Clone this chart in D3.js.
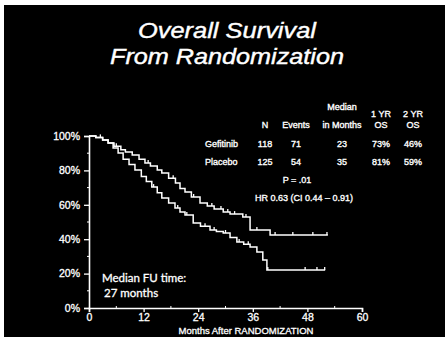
<!DOCTYPE html>
<html>
<head>
<meta charset="utf-8">
<script src="https://cdn.jsdelivr.net/npm/d3@7"></script>
<style>
  html, body { margin: 0; padding: 0; background: #fff; }
  svg { display: block; }
  .narrow { font-family: "Liberation Sans Narrow", "Arial Narrow", "Liberation Sans", sans-serif; }
</style>
</head>
<body>
<svg id="chart" width="445" height="337"></svg>
<script>
// Kaplan-Meier overall survival, months after randomization
const placeboMonths   = [0, 1.5, 3, 4.2, 5.5, 7, 8, 9.5, 11, 12.3, 13.5, 15, 16, 17.5, 19, 20, 21.1, 22.5, 24.4, 26, 27.5, 29.5, 31, 33.8, 35.4, 39.8, 52.5];
const placeboSurv     = [100, 99.2, 97.7, 95.9, 94, 92, 90.7, 89, 86.5, 84.3, 82.5, 80.2, 78.5, 75.5, 72.7, 69.5, 67.4, 64.5, 61, 59.3, 57.5, 55.8, 54.6, 52.9, 45.3, 42.4, 42.4];
const gefitinibMonths = [0, 1.5, 3, 4.2, 5.3, 6.4, 7.5, 8.8, 10.1, 11.5, 12.6, 13.8, 15, 16, 17.5, 18.9, 20, 21.1, 22.9, 24.5, 26.6, 28, 29.5, 31, 32.5, 34, 35.4, 36.9, 38.2, 39.1, 51.9];
const gefitinibSurv   = [100, 99.2, 97.7, 95.9, 93, 90.1, 86.5, 83.5, 80.2, 76.5, 73.5, 70.3, 67, 64, 61, 58.1, 55.8, 54.1, 49.4, 47.5, 45.3, 44.5, 43.6, 41, 38.4, 37, 35.5, 32.6, 27.9, 22.1, 22.1];

// censored observations (months)
const placeboCensor   = [2.5, 6, 13, 18.5, 23, 27, 29, 30.5, 32, 34.5, 36.9, 40.9, 44.8, 49.2, 52.3];
const gefitinibCensor = [14.2, 19.5, 21.5, 25.5, 27.5, 30, 33, 35, 39.3, 47.5, 50.1, 51.8];

const xTicks = [0, 12, 24, 36, 48, 60];
const yTicks = [0, 20, 40, 60, 80, 100];

// summary table
const tableHeader = ["N", "Events", "in Months", "OS", "OS"];
const tableHeaderTop = ["", "", "Median", "1 YR", "2 YR"];
const rowNames = ["Gefitinib", "Placebo"];
const rowN = [118, 125];
const rowEvents = [71, 54];
const rowMedian = [23, 35];
const rowOS1 = ["73%", "81%"];
const rowOS2 = ["46%", "59%"];

const svg = d3.select("#chart");
const W = 445, H = 337;

// dark slide panel
svg.append("rect").attr("x", 4).attr("y", 5).attr("width", W - 4).attr("height", H - 5).attr("fill", "#000");

// title
const title = svg.append("g")
  .attr("font-family", "'Liberation Sans', Arial, sans-serif")
  .attr("font-style", "italic")
  .attr("font-size", 22)
  .attr("fill", "#fff")
  .attr("stroke", "#fff")
  .attr("stroke-width", 0.4)
  .attr("text-anchor", "middle");
title.append("text").attr("x", 227).attr("y", 38)
  .attr("textLength", 178).attr("lengthAdjust", "spacingAndGlyphs").text("Overall Survival");
title.append("text").attr("x", 227).attr("y", 64)
  .attr("textLength", 234).attr("lengthAdjust", "spacingAndGlyphs").text("From Randomization");

const x = d3.scaleLinear().domain([0, 60]).range([89, 362]);
const y = d3.scaleLinear().domain([0, 100]).range([308, 136]);

// axes
const axisColor = "#fff";
const xAxis = svg.append("g").attr("transform", `translate(0,${y(0)})`)
  .call(d3.axisBottom(x).tickValues(xTicks).tickSize(4).tickPadding(2));
const yAxis = svg.append("g").attr("transform", `translate(${x(0)},0)`)
  .call(d3.axisLeft(y).tickValues(yTicks).tickSize(5).tickPadding(4).tickFormat(d => d + "%"));
[xAxis, yAxis].forEach(g => {
  g.select(".domain").attr("stroke", axisColor).attr("stroke-width", 1.6);
  g.selectAll(".tick line").attr("stroke", axisColor).attr("stroke-width", 1.3);
  g.selectAll(".tick text").attr("fill", "#fff")
    .attr("stroke", "#fff").attr("stroke-width", 0.3)
    .attr("font-family", "'Liberation Sans Narrow', 'Arial Narrow', sans-serif")
    .attr("font-size", 10.5);
});

// minor ticks
svg.append("g").selectAll("line")
  .data(d3.range(6, 60, 12))
  .join("line")
  .attr("x1", d => x(d)).attr("x2", d => x(d))
  .attr("y1", y(0) - 2).attr("y2", y(0))
  .attr("stroke", "#fff").attr("stroke-width", 1);
svg.append("g").selectAll("line")
  .data(d3.range(10, 100, 20))
  .join("line")
  .attr("x1", x(0) - 2).attr("x2", x(0))
  .attr("y1", d => y(d)).attr("y2", d => y(d))
  .attr("stroke", "#fff").attr("stroke-width", 1);

// survival step curves
const line = d3.line().x(d => x(d[0])).y(d => y(d[1])).curve(d3.curveStepAfter);
function survAt(months, surv, t) {
  let v = surv[0];
  for (let i = 0; i < months.length; i++) if (months[i] <= t) v = surv[i];
  return v;
}
function drawArm(months, surv, censor) {
  const pts = months.map((m, i) => [m, surv[i]]);
  svg.append("path").datum(pts)
    .attr("d", line)
    .attr("fill", "none")
    .attr("stroke", "#fff")
    .attr("stroke-width", 1.5);
  svg.append("g").selectAll("line")
    .data(censor)
    .join("line")
    .attr("x1", d => x(d)).attr("x2", d => x(d))
    .attr("y1", d => y(survAt(months, surv, d)))
    .attr("y2", d => y(survAt(months, surv, d)) - 3)
    .attr("stroke", "#fff").attr("stroke-width", 1.3);
}
drawArm(placeboMonths, placeboSurv, placeboCensor);
drawArm(gefitinibMonths, gefitinibSurv, gefitinibCensor);

// summary table
const tbl = svg.append("g").attr("class", "narrow").attr("fill", "#fff")
  .attr("stroke", "#fff").attr("stroke-width", 0.35).attr("font-size", 9);
const colX = [265, 296, 342, 381, 413];
tbl.selectAll("text.h1").data(tableHeaderTop).join("text")
  .attr("x", (d, i) => colX[i]).attr("y", (d, i) => i === 2 ? 110 : 117)
  .attr("text-anchor", "middle").text(d => d);
tbl.selectAll("text.h2").data(tableHeader).join("text")
  .attr("x", (d, i) => colX[i]).attr("y", 128)
  .attr("text-anchor", "middle").text(d => d);
rowNames.forEach((name, r) => {
  const yy = 147 + r * 18;
  const vals = [rowN[r], rowEvents[r], rowMedian[r], rowOS1[r], rowOS2[r]];
  tbl.append("text").attr("x", 205).attr("y", yy).text(name);
  vals.forEach((v, i) => {
    tbl.append("text").attr("x", colX[i]).attr("y", yy).attr("text-anchor", "middle").text(v);
  });
});
tbl.append("text").attr("x", 297).attr("y", 183).attr("text-anchor", "middle").text("P = .01");
tbl.append("text").attr("x", 304).attr("y", 201).attr("text-anchor", "middle").text("HR 0.63 (CI 0.44 – 0.91)");

// follow-up note
const fu = svg.append("g").attr("fill", "#fff").attr("stroke", "#fff").attr("stroke-width", 0.3)
  .attr("font-family", "Lato, 'Open Sans', sans-serif").attr("font-size", 11.5);
fu.append("text").attr("x", 102).attr("y", 282).text("Median FU time:");
fu.append("text").attr("x", 104).attr("y", 297).text("27 months");

// x-axis title
svg.append("text").attr("class", "narrow").attr("fill", "#fff")
  .attr("stroke", "#fff").attr("stroke-width", 0.3).attr("font-size", 9.5)
  .attr("x", 246).attr("y", 334).attr("text-anchor", "middle")
  .text("Months After RANDOMIZATION");
</script>
</body>
</html>
